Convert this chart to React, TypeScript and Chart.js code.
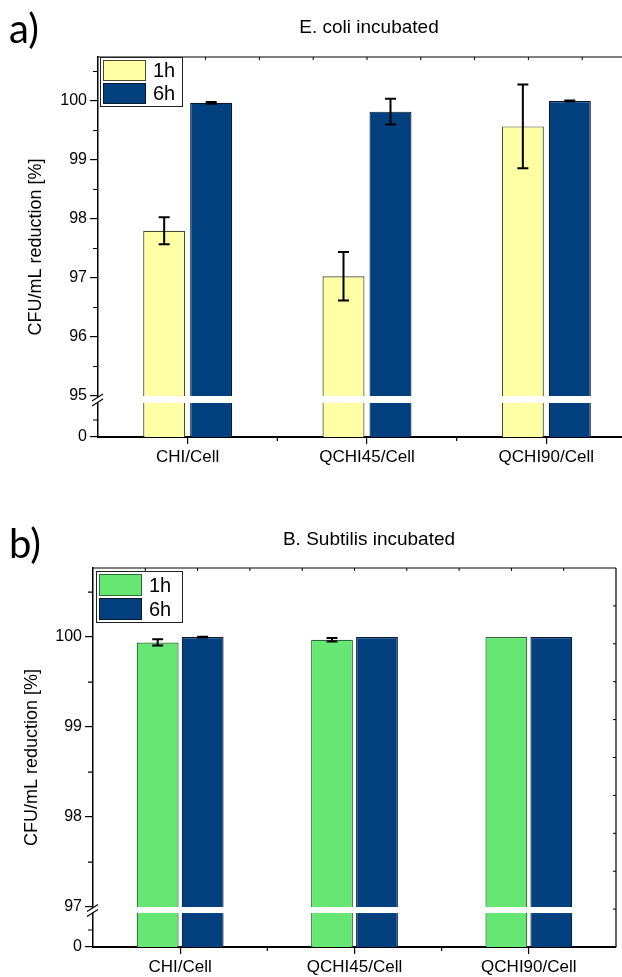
import React, { useEffect, useRef } from 'react';
import { Chart, registerables } from 'chart.js';
Chart.register(...registerables);

// ---------- data ----------
const categories = ['CHI/Cell', 'QCHI45/Cell', 'QCHI90/Cell'];
const seriesLabels = ['1h', '6h'];

// a) E. coli incubated
const ecoli1h = [97.8, 97.03, 99.57];
const ecoli1hErr = [0.23, 0.41, 0.71];
const ecoli6h = [99.97, 99.82, 100.0];
const ecoli6hErr = [0.015, 0.22, 0.01];
const ecoliTicks = [95, 96, 97, 98, 99, 100];

// b) B. Subtilis incubated
const bsub1h = [99.94, 99.97, 100.0];
const bsub1hErr = [0.035, 0.02, 0];
const bsub6h = [100.0, 100.0, 100.0];
const bsub6hErr = [0.004, 0, 0];
const bsubTicks = [97, 98, 99, 100];

const FONT = "'Liberation Sans', Arial, sans-serif";
const BLUE = '#01407F';
const YELLOW = '#FFFFA6';
const GREEN = '#66E672';

type Panel = {
  letter: string; title: string;
  v1: number[]; e1: number[]; v6: number[]; e6: number[];
  ticks: number[]; breakAt: number; min: number; max: number;
  color1: string; border1: string;
  width: number; height: number;
  area: { left: number; top: number; right: number; bottom: number };
  catPct: number; barPct: number; gap: number;
  legend: { x: number; y: number; w: number; rowH: number };
  titleY: number; letterY: number; yTitleX: number; rightAxis: boolean;
};

const panelA: Panel = {
  letter: 'a)', title: 'E. coli incubated',
  v1: ecoli1h, e1: ecoli1hErr, v6: ecoli6h, e6: ecoli6hErr,
  ticks: ecoliTicks, breakAt: 95, min: 94.305, max: 100.746,
  color1: YELLOW, border1: '#4a4a33',
  width: 660, height: 490,
  area: { left: 98, top: 57, right: 636, bottom: 437 },
  catPct: 0.524, barPct: 0.894, gap: 7,
  legend: { x: 100, y: 57, w: 82, rowH: 23 },
  titleY: 28, letterY: 30, yTitleX: 36, rightAxis: true,
};

const panelB: Panel = {
  letter: 'b)', title: 'B. Subtilis incubated',
  v1: bsub1h, e1: bsub1hErr, v6: bsub6h, e6: bsub6hErr,
  ticks: bsubTicks, breakAt: 97, min: 96.556, max: 100.767,
  color1: GREEN, border1: '#2e6b34',
  width: 622, height: 487,
  area: { left: 93, top: 78, right: 616, bottom: 457 },
  catPct: 0.516, barPct: 0.93, gap: 6,
  legend: { x: 96, y: 81, w: 86, rowH: 24 },
  titleY: 50, letterY: 55, yTitleX: 32, rightAxis: true,
};

const panelPlugin = {
  id: 'panel',
  afterDatasetsDraw(chart: any, _a: any, o: any) {
    const p: Panel = o.p;
    const { ctx, chartArea: ca } = chart;
    const y = chart.scales.y;
    const yb = y.getPixelForValue(p.breakAt);
    ctx.save();
    ctx.fillStyle = '#fff';
    ctx.fillRect(ca.left + 1, yb, ca.right - ca.left - 1, p.gap);
    // error bars
    ctx.strokeStyle = '#000';
    ctx.lineWidth = 2;
    [p.e1, p.e6].forEach((errs, di) => {
      const meta = chart.getDatasetMeta(di);
      const vals = chart.data.datasets[di].data as number[];
      meta.data.forEach((bar: any, j: number) => {
        const e = errs[j];
        if (!e) return;
        const v = vals[j];
        const x = bar.x;
        const yt = y.getPixelForValue(v + e);
        const ybt = y.getPixelForValue(v - e);
        ctx.beginPath();
        ctx.moveTo(x, yt); ctx.lineTo(x, ybt);
        ctx.moveTo(x - 5.5, yt); ctx.lineTo(x + 5.5, yt);
        ctx.moveTo(x - 5.5, ybt); ctx.lineTo(x + 5.5, ybt);
        ctx.stroke();
      });
    });
    ctx.restore();
  },
  afterDraw(chart: any, _a: any, o: any) {
    const p: Panel = o.p;
    const { ctx, chartArea: ca } = chart;
    const y = chart.scales.y;
    const x = chart.scales.x;
    ctx.save();
    ctx.strokeStyle = '#000';
    // top / right axes
    ctx.lineWidth = 1.2;
    ctx.beginPath();
    ctx.moveTo(ca.left, ca.top); ctx.lineTo(ca.right, ca.top);
    if (p.rightAxis) { ctx.moveTo(ca.right, ca.top); ctx.lineTo(ca.right, ca.bottom); }
    ctx.stroke();
    ctx.lineWidth = 1;
    ctx.beginPath();
    for (let i = 1; i < 10; i++) {
      const xx = ca.left + (ca.right - ca.left) * i / 10;
      ctx.moveTo(xx, ca.top); ctx.lineTo(xx, ca.top + 3);
      const yy = ca.top + (ca.bottom - ca.top) * i / 10;
      ctx.moveTo(ca.right, yy); ctx.lineTo(ca.right - 3, yy);
    }
    ctx.stroke();
    // minor y ticks
    ctx.lineWidth = 1.2;
    ctx.beginPath();
    for (let v = p.breakAt + 0.5; v < p.max; v += 1) {
      const yy = y.getPixelForValue(v);
      ctx.moveTo(ca.left, yy); ctx.lineTo(ca.left - 5, yy);
    }
    const lowMid = (y.getPixelForValue(p.breakAt) + p.gap + ca.bottom) / 2;
    ctx.moveTo(ca.left, lowMid); ctx.lineTo(ca.left - 5, lowMid);
    // minor x ticks at category boundaries
    for (let i = 0; i < categories.length - 1; i++) {
      const xx = (x.getPixelForValue(i) + x.getPixelForValue(i + 1)) / 2;
      ctx.moveTo(xx, ca.bottom); ctx.lineTo(xx, ca.bottom + 4);
    }
    ctx.stroke();
    // break marks
    const yc = y.getPixelForValue(p.breakAt) + p.gap / 2;
    ctx.fillStyle = '#fff';
    ctx.beginPath();
    ctx.moveTo(ca.left - 6, yc - 2.5 + 4);
    ctx.lineTo(ca.left + 5, yc - 2.5 - 3);
    ctx.lineTo(ca.left + 5, yc + 2.5 - 3);
    ctx.lineTo(ca.left - 6, yc + 2.5 + 4);
    ctx.closePath();
    ctx.fill();
    ctx.lineWidth = 1.2;
    ctx.beginPath();
    ctx.moveTo(ca.left - 6, yc - 2.5 + 4); ctx.lineTo(ca.left + 5, yc - 2.5 - 3);
    ctx.moveTo(ca.left - 6, yc + 2.5 + 4); ctx.lineTo(ca.left + 5, yc + 2.5 - 3);
    ctx.stroke();
    // legend
    const L = p.legend;
    const cols = [p.color1, BLUE];
    const borders = [p.border1, '#0a1a33'];
    ctx.lineWidth = 1;
    ctx.strokeStyle = '#222';
    ctx.fillStyle = '#fff';
    ctx.fillRect(L.x, L.y, L.w, L.rowH * 2 + 3);
    ctx.strokeRect(L.x + 0.5, L.y + 0.5, L.w, L.rowH * 2 + 3);
    seriesLabels.forEach((s, i) => {
      const ry = L.y + 3 + i * L.rowH;
      ctx.fillStyle = cols[i];
      ctx.fillRect(L.x + 3, ry, 43, L.rowH - 2);
      ctx.strokeStyle = borders[i];
      ctx.strokeRect(L.x + 3.5, ry + 0.5, 42, L.rowH - 3);
      ctx.fillStyle = '#000';
      ctx.font = `20px ${FONT}`;
      ctx.textAlign = 'left';
      ctx.textBaseline = 'middle';
      ctx.fillText(s, L.x + 53, ry + (L.rowH - 2) / 2 + 1);
    });
    // title
    ctx.fillStyle = '#000';
    ctx.font = `19px ${FONT}`;
    ctx.textAlign = 'center';
    ctx.textBaseline = 'middle';
    ctx.fillText(p.title, 369, p.titleY);
    // panel letter
    ctx.font = `40px Lato, 'Open Sans', sans-serif`;
    ctx.textAlign = 'left';
    ctx.fillText(p.letter, 9, p.letterY);
    // y title
    ctx.save();
    ctx.translate(p.yTitleX, (ca.top + ca.bottom) / 2);
    ctx.rotate(-Math.PI / 2);
    ctx.font = `18px ${FONT}`;
    ctx.textAlign = 'center';
    ctx.textBaseline = 'middle';
    ctx.fillText('CFU/mL reduction [%]', 0, 0);
    ctx.restore();
    ctx.restore();
  },
};

function makeChart(canvas: HTMLCanvasElement, p: Panel) {
  return new Chart(canvas, {
    type: 'bar',
    data: {
      labels: categories,
      datasets: [
        { label: seriesLabels[0], data: p.v1, backgroundColor: p.color1, borderColor: p.border1, borderWidth: 1.2 },
        { label: seriesLabels[1], data: p.v6, backgroundColor: BLUE, borderColor: '#0a1a33', borderWidth: 1.2 },
      ],
    },
    options: {
      responsive: false,
      animation: false,
      devicePixelRatio: 1,
      layout: { padding: { top: p.area.top, left: 0, right: p.width - p.area.right, bottom: 0 } },
      datasets: { bar: { categoryPercentage: p.catPct, barPercentage: p.barPct } },
      plugins: {
        legend: { display: false },
        title: { display: false },
        tooltip: { enabled: false },
        panel: { p },
      } as any,
      scales: {
        x: {
          type: 'category',
          afterFit: (s: any) => { s.height = p.height - p.area.bottom; },
          grid: { display: true, drawOnChartArea: false, drawTicks: true, tickLength: 7, offset: false, color: '#000', lineWidth: 1.2 },
          border: { display: true, color: '#000', width: 2 },
          ticks: { color: '#000', font: { size: 17, family: FONT }, padding: 3, maxRotation: 0 },
        },
        y: {
          type: 'linear',
          min: p.min,
          max: p.max,
          afterFit: (s: any) => { s.width = p.area.left; },
          afterBuildTicks: (s: any) => { s.ticks = [p.min, ...p.ticks].map((v) => ({ value: v })); },
          grid: { display: true, drawOnChartArea: false, drawTicks: true, tickLength: 8, color: '#000', lineWidth: 1.2 },
          border: { display: true, color: '#000', width: 1.5 },
          ticks: {
            color: '#000', font: { size: 16, family: FONT }, padding: 3, autoSkip: false,
            callback: (v: any, i: number) => (i === 0 ? '0' : String(v)),
          },
        },
      },
    },
    plugins: [panelPlugin as any],
  });
}

export default function App() {
  const refA = useRef<HTMLCanvasElement>(null);
  const refB = useRef<HTMLCanvasElement>(null);
  useEffect(() => {
    const a = makeChart(refA.current!, panelA);
    const b = makeChart(refB.current!, panelB);
    return () => { a.destroy(); b.destroy(); };
  }, []);
  return (
    <div style={{ position: 'absolute', left: 0, top: 0, width: 622, height: 977, overflow: 'hidden', background: '#fff' }}>
      <div style={{ position: 'absolute', left: 0, top: 0, width: panelA.width, height: panelA.height }}>
        <canvas ref={refA} width={panelA.width} height={panelA.height} style={{ width: panelA.width, height: panelA.height }} />
      </div>
      <div style={{ position: 'absolute', left: 0, top: 490, width: panelB.width, height: panelB.height }}>
        <canvas ref={refB} width={panelB.width} height={panelB.height} style={{ width: panelB.width, height: panelB.height }} />
      </div>
    </div>
  );
}
